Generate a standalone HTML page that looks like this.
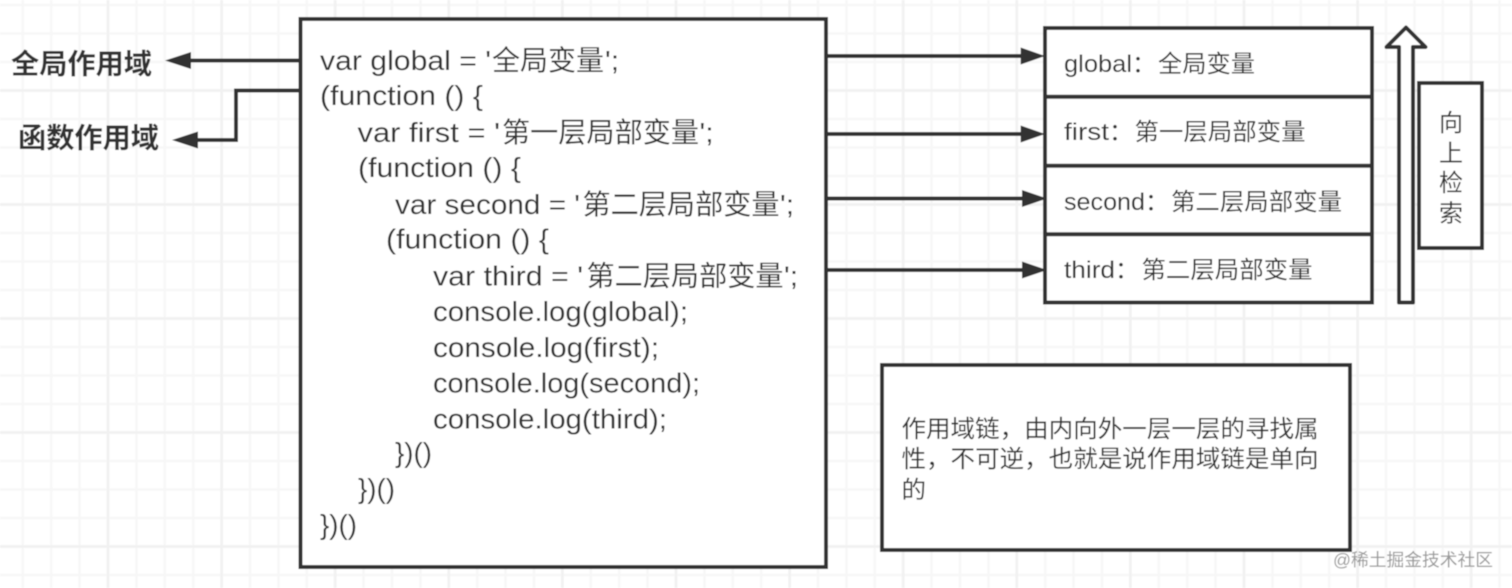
<!DOCTYPE html>
<html><head><meta charset="utf-8">
<style>
html,body{margin:0;padding:0;background:#fff;width:1512px;height:588px;overflow:hidden}
svg{display:block}
text{font-family:"Liberation Sans","Noto Sans CJK SC",sans-serif;fill:#333}
.c{font-size:28px}
.z{font-family:"Noto Sans CJK SC","Liberation Sans",sans-serif}
.s{font-size:24px}
.b{font-family:"Noto Sans CJK SC",sans-serif;font-size:28px;font-weight:700}
</style></head><body>
<svg width="1512" height="588" viewBox="0 0 1512 588" xmlns="http://www.w3.org/2000/svg">
<defs>
<pattern id="minor" x="106" y="88.5" width="28.4" height="28.5" patternUnits="userSpaceOnUse">
<path d="M2 0V28.5M0 2H28.4" stroke="#f7f7f7" stroke-width="2.5" fill="none"/>
</pattern>
<pattern id="major" x="106" y="88.5" width="113.6" height="114" patternUnits="userSpaceOnUse">
<path d="M2 0V114M0 2H113.6" stroke="#f1f1f1" stroke-width="2.5" fill="none"/>
</pattern>
<filter id="soft" x="0" y="0" width="100%" height="100%"><feGaussianBlur stdDeviation="0.4"/></filter>
</defs>
<g filter="url(#soft)">
<rect width="1512" height="588" fill="#fff"/>
<rect width="1512" height="588" fill="url(#minor)"/>
<rect width="1512" height="588" fill="url(#major)"/>

<g fill="#fff" stroke="#333" stroke-width="4">
<rect x="300.5" y="19" width="525.5" height="548"/>
<rect x="1045" y="28" width="327" height="274.5"/>
<rect x="1419" y="83" width="63" height="165"/>
<rect x="882" y="365" width="468" height="185"/>
<path d="M1399 302.5V47H1386.5L1406 27.5L1425.5 47H1413V302.5Z" stroke-linejoin="round"/>
</g>
<g stroke="#333" stroke-width="4" fill="none">
<path d="M1045 96.7H1372M1045 165.7H1372M1045 234.3H1372"/>
<path d="M300 60.5H190"/>
<path d="M300 90.5H236V140H197"/>
<path d="M826 56H1022M826 134H1022M826 198.5H1024M826 270H1024"/>
</g>
<g fill="#333">
<path d="M165 60.5L191 52V69Z"/>
<path d="M172 140L198 131.5V148.5Z"/>
<path d="M1045 56L1020.7 47.5V64.5Z"/>
<path d="M1045 134L1020.7 125.5V142.5Z"/>
<path d="M1047 198.5L1022 190V207Z"/>
<path d="M1047 270L1022 261.5V278.5Z"/>
</g>

<text class="b" x="11" y="73.5" textLength="141" lengthAdjust="spacingAndGlyphs">全局作用域</text>
<text class="b" x="18" y="147.5" textLength="141" lengthAdjust="spacingAndGlyphs">函数作用域</text>

<g class="c">
<text class="c" x="320" y="70" textLength="171" lengthAdjust="spacingAndGlyphs">var global = '</text>
<text class="c z" x="492" y="70" textLength="112" lengthAdjust="spacingAndGlyphs">全局变量</text>
<text class="c" x="605" y="70" textLength="14" lengthAdjust="spacingAndGlyphs">';</text>
<text class="c" x="320" y="105" textLength="163" lengthAdjust="spacingAndGlyphs">(function () {</text>
<text class="c" x="357.5" y="142" textLength="142.5" lengthAdjust="spacingAndGlyphs">var first = '</text>
<text class="c z" x="502" y="142" textLength="197" lengthAdjust="spacingAndGlyphs">第一层局部变量</text>
<text class="c" x="699.5" y="142" textLength="14" lengthAdjust="spacingAndGlyphs">';</text>
<text class="c" x="358" y="177" textLength="163" lengthAdjust="spacingAndGlyphs">(function () {</text>
<text class="c" x="395" y="214" textLength="185" lengthAdjust="spacingAndGlyphs">var second = '</text>
<text class="c z" x="582.5" y="214" textLength="197" lengthAdjust="spacingAndGlyphs">第二层局部变量</text>
<text class="c" x="780" y="214" textLength="14" lengthAdjust="spacingAndGlyphs">';</text>
<text class="c" x="386" y="248.5" textLength="163" lengthAdjust="spacingAndGlyphs">(function () {</text>
<text class="c" x="433" y="285.5" textLength="150" lengthAdjust="spacingAndGlyphs">var third = '</text>
<text class="c z" x="586.5" y="285.5" textLength="197" lengthAdjust="spacingAndGlyphs">第二层局部变量</text>
<text class="c" x="784" y="285.5" textLength="14" lengthAdjust="spacingAndGlyphs">';</text>
<text class="c" x="433" y="321" textLength="255" lengthAdjust="spacingAndGlyphs">console.log(global);</text>
<text class="c" x="433" y="357" textLength="226" lengthAdjust="spacingAndGlyphs">console.log(first);</text>
<text class="c" x="433" y="392.5" textLength="267" lengthAdjust="spacingAndGlyphs">console.log(second);</text>
<text class="c" x="433" y="428.5" textLength="234" lengthAdjust="spacingAndGlyphs">console.log(third);</text>
<text class="c" x="395" y="462" textLength="37" lengthAdjust="spacingAndGlyphs">})()</text>
<text class="c" x="358" y="498" textLength="37" lengthAdjust="spacingAndGlyphs">})()</text>
<text class="c" x="320" y="534" textLength="37" lengthAdjust="spacingAndGlyphs">})()</text>
</g>

<text class="s" x="1064" y="72" textLength="68" lengthAdjust="spacingAndGlyphs">global</text>
<text class="s z" x="1132" y="72">：</text>
<text class="s z" x="1158" y="72" textLength="97" lengthAdjust="spacingAndGlyphs">全局变量</text>
<text class="s" x="1064" y="140" textLength="45" lengthAdjust="spacingAndGlyphs">first</text>
<text class="s z" x="1109" y="140">：</text>
<text class="s z" x="1134.5" y="140" textLength="171" lengthAdjust="spacingAndGlyphs">第一层局部变量</text>
<text class="s" x="1064" y="210" textLength="81" lengthAdjust="spacingAndGlyphs">second</text>
<text class="s z" x="1145" y="210">：</text>
<text class="s z" x="1171" y="210" textLength="171" lengthAdjust="spacingAndGlyphs">第二层局部变量</text>
<text class="s" x="1064" y="278" textLength="51" lengthAdjust="spacingAndGlyphs">third</text>
<text class="s z" x="1115" y="278">：</text>
<text class="s z" x="1141.5" y="278" textLength="171" lengthAdjust="spacingAndGlyphs">第二层局部变量</text>

<text class="s z" x="1439" y="131">向</text>
<text class="s z" x="1439" y="161.5">上</text>
<text class="s z" x="1439" y="191">检</text>
<text class="s z" x="1439" y="221.5">索</text>

<text class="s z" x="901.5" y="437" textLength="417" lengthAdjust="spacingAndGlyphs">作用域链，由内向外一层一层的寻找属</text>
<text class="s z" x="901.5" y="467" textLength="417" lengthAdjust="spacingAndGlyphs">性，不可逆，也就是说作用域链是单向</text>
<text class="s z" x="901.5" y="498" textLength="24.5" lengthAdjust="spacingAndGlyphs">的</text>

<text x="1333" y="566" font-size="17.6" style="fill:#999" textLength="160" lengthAdjust="spacingAndGlyphs">@稀土掘金技术社区</text>
</g>
</svg>
</body></html>
